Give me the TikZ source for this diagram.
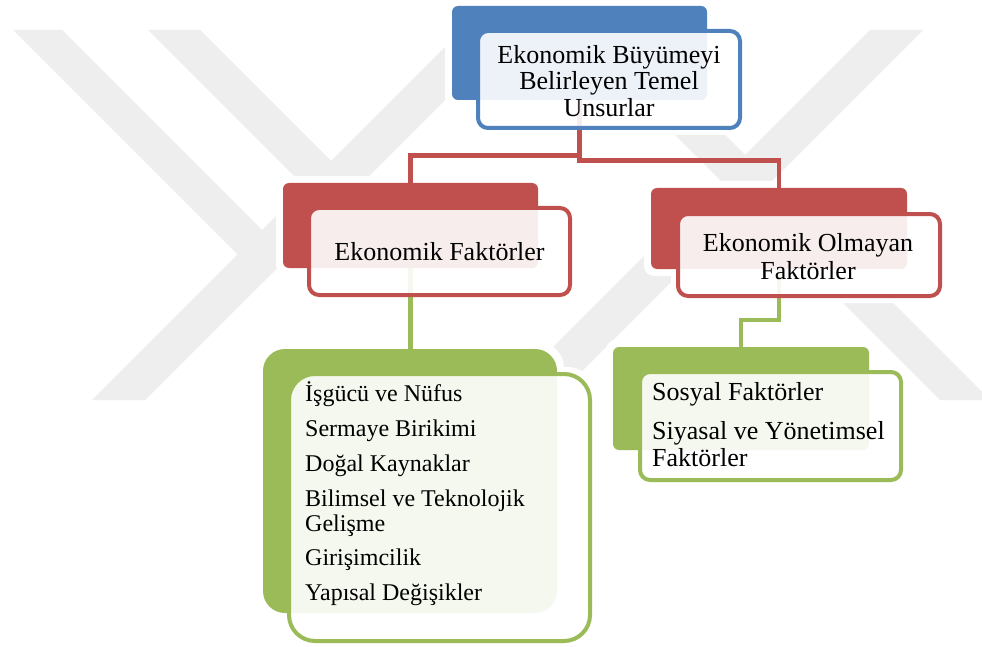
\documentclass[tikz,border=0pt]{standalone}
\usepackage{fontspec}
\setmainfont{Liberation Serif}
\definecolor{cblue}{HTML}{4F81BD}
\definecolor{cred}{HTML}{C0504D}
\definecolor{cgreen}{HTML}{9BBB59}
\definecolor{wmgray}{HTML}{EEEEEE}
\pgfdeclarelayer{wmk}
\pgfdeclarelayer{bg}
\pgfsetlayers{wmk,bg,main}
\begin{document}
\begin{tikzpicture}[x=1pt,y=-1pt,
  backbox/.style={fill=#1, rounded corners=6pt, inner sep=0pt, outer sep=0pt},
  frontbox/.style={draw=#1, line width=4pt, fill=white, fill opacity=0.9, rounded corners=10pt, inner sep=0pt, outer sep=0pt},
  conn/.style={draw=#1, line width=4.5pt},
  bigtxt/.style={font=\fontsize{26}{26}\selectfont, inner sep=0pt, text=black},
  smalltxt/.style={font=\fontsize{24}{24}\selectfont, inner sep=0pt, text=black},
  wmband/.style={fill=wmgray}
]
\useasboundingbox (0,0) rectangle (982,647);

% watermark
\begin{pgfonlayer}{wmk}
\fill[white] (0,0) rectangle (982,647);
\fill[wmband] (13,30) -- (62,30) -- (288.5,256.5) -- (264,281) -- cycle;
\fill[wmband] (148,30) -- (200,30) -- (357.5,187.5) -- (331.5,213.5) -- cycle;
\fill[wmband] (92,400) -- (145,400) -- (515,30) -- (462,30) -- cycle;
\fill[wmband] (570,30) -- (620,30) -- (990,400) -- (940,400) -- cycle;
\fill[wmband] (870,30) -- (923,30) -- (553,400) -- (500,400) -- cycle;
\end{pgfonlayer}

% back boxes
\node[backbox=cblue, minimum width=255pt, minimum height=94pt] (blueB) at (579.5,53) {};
\node[backbox=cred, minimum width=255pt, minimum height=85pt] (redLB) at (410.5,225.5) {};
\node[backbox=cred, minimum width=256pt, minimum height=81pt] (redRB) at (779,228.5) {};
\node[backbox=cgreen, rounded corners=22pt, minimum width=294pt, minimum height=264pt] (grLB) at (410,481) {};
\node[backbox=cgreen, minimum width=256pt, minimum height=103pt] (grRB) at (741,398.5) {};

% front boxes
\node[frontbox=cblue, minimum width=262pt, minimum height=97pt] (blueF) at (609,79.5) {};
\node[frontbox=cred, minimum width=261pt, minimum height=87pt] (redLF) at (439.5,251.5) {};
\node[frontbox=cred, minimum width=262pt, minimum height=82pt] (redRF) at (809,255) {};
\node[frontbox=cgreen, rounded corners=26pt, minimum width=301pt, minimum height=267pt] (grLF) at (439.5,507.5) {};
\node[frontbox=cgreen, minimum width=261pt, minimum height=108pt] (grRF) at (770.5,426) {};

% halos and connectors
\begin{pgfonlayer}{bg}
\foreach \n in {blueB,redLB,redRB,grRB} {
  \fill[white, rounded corners=10pt] ([shift={(-7,-7)}]\n.north west) rectangle ([shift={(7,7)}]\n.south east);
}
\fill[white, rounded corners=26pt] ([shift={(-7,-7)}]grLB.north west) rectangle ([shift={(7,7)}]grLB.south east);
\foreach \n in {blueF,redLF,redRF,grRF} {
  \fill[white, rounded corners=14pt] ([shift={(-7,-7)}]\n.north west) rectangle ([shift={(7,7)}]\n.south east);
}
\fill[white, rounded corners=30pt] ([shift={(-7,-7)}]grLF.north west) rectangle ([shift={(7,7)}]grLF.south east);
\draw[conn=cred] (blueB.south) -- ++(0,55.5) -| (redLB.north);
\draw[conn=cred] (blueB.south) -- ++(0,60.5) -| (redRB.north);
\draw[conn=cgreen] (redLB.south) -- (redLB.south |- grLB.north);
\draw[conn=cgreen] (redRB.south) -- ++(0,51) -| (grRB.north);
\end{pgfonlayer}

% texts
\node[bigtxt, anchor=base] (t1) at (609,63.5) {Ekonomik Büyümeyi};
\node[bigtxt, anchor=base] (t2) at (609,90) {Belirleyen Temel};
\node[bigtxt, anchor=base] (t3) at (609,116.5) {Unsurlar};

\node[bigtxt, anchor=base] (e1) at (439.5,260.7) {Ekonomik Faktörler};

\node[bigtxt, anchor=base] (o1) at (808,251.7) {Ekonomik Olmayan};
\node[bigtxt, anchor=base] (o2) at (808,279) {Faktörler};

\node[smalltxt, anchor=base west] (g1) at (305,401.7) {İşgücü ve Nüfus};
\node[smalltxt, anchor=base west] (g2) at (305,436.7) {Sermaye Birikimi};
\node[smalltxt, anchor=base west] (g3) at (305,471.7) {Doğal Kaynaklar};
\node[smalltxt, anchor=base west] (g4) at (305,506) {Bilimsel ve Teknolojik};
\node[smalltxt, anchor=base west] (g5) at (305,531) {Gelişme};
\node[smalltxt, anchor=base west] (g6) at (305,565) {Girişimcilik};
\node[smalltxt, anchor=base west] (g7) at (305,600) {Yapısal Değişikler};

\node[bigtxt, anchor=base west] (s1) at (652,400.7) {Sosyal Faktörler};
\node[bigtxt, anchor=base west] (s2) at (652,439.3) {Siyasal ve Yönetimsel};
\node[bigtxt, anchor=base west] (s3) at (652,466.7) {Faktörler};
\end{tikzpicture}
\end{document}
